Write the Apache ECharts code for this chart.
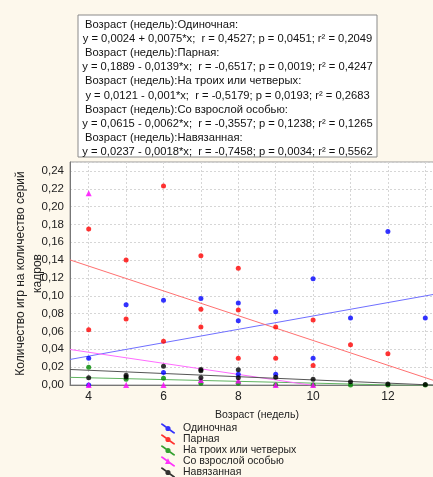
<!DOCTYPE html>
<html>
<head>
<meta charset="utf-8">
<script src="https://cdn.jsdelivr.net/npm/echarts@6/dist/echarts.min.js"></script>
<style>
  html, body { margin: 0; padding: 0; background: #fdf8ec; }
  #chart { width: 433px; height: 477px; }
</style>
</head>
<body>
<div id="chart"></div>
<script>
// Series names (legend order)
const seriesNames = ['Одиночная', 'Парная', 'На троих или четверых', 'Со взрослой особью', 'Навязанная'];

// Observations: [age in weeks, plays per frame series]
const singlePts = [
  [4, 0.030], [4, 0.000], [5, 0.090], [6, 0.095], [6, 0.014], [7, 0.097],
  [8, 0.092], [8, 0.072], [8, 0.012], [9, 0.082], [9, 0.012], [10, 0.119],
  [10, 0.030], [11, 0.075], [12, 0.172], [13, 0.075]
];
const pairPts = [
  [4, 0.175], [4, 0.062], [5, 0.140], [5, 0.074], [6, 0.223], [6, 0.049],
  [7, 0.145], [7, 0.085], [7, 0.065], [8, 0.131], [8, 0.084], [8, 0.030],
  [9, 0.065], [9, 0.030], [10, 0.073], [10, 0.022], [11, 0.045], [12, 0.035]
];
const groupPts = [
  [4, 0.020], [5, 0.0064], [6, 0.0075], [7, 0.002], [8, 0.002],
  [9, 0.000], [10, 0.000], [11, 0.000], [12, 0.000], [13, 0.000]
];
const adultPts = [
  [4, 0.215], [4, 0.000], [5, 0.000], [6, 0.000], [7, 0.0056], [8, 0.005],
  [9, 0.000], [10, 0.000]
];
const imposedPts = [
  [4, 0.008], [5, 0.011], [5, 0.009], [6, 0.021], [7, 0.0175], [7, 0.016],
  [7, 0.008], [8, 0.017], [8, 0.008], [9, 0.0086], [10, 0.0064], [11, 0.0037],
  [12, 0.001], [13, 0.0005]
];

// Linear fits y = a + b*x and their statistics
const intercepts = [0.0024, 0.1889, 0.0121, 0.0615, 0.0237];
const slopes     = [0.0075, -0.0139, -0.001, -0.0062, -0.0018];
const rValues    = ['0,4527', '-0,6517', '-0,5179', '-0,3557', '-0,7458'];
const pValues    = ['0,0451', '0,0019', '0,0193', '0,1238', '0,0034'];
const r2Values   = ['0,2049', '0,4247', '0,2683', '0,1265', '0,5562'];

// Axis ticks
const xRange = [3.5, 13.5];
const xGridTicks = [4, 5, 6, 7, 8, 9, 10, 11, 12, 13];
const xLabelTicks = [4, 6, 8, 10, 12];

const pointColors = ['#0000ff', '#ff0000', '#008a00', '#ff00ff', '#000000'];
const lineColors  = ['#6f6fff', '#ff7070', '#5fb35f', '#ff6bff', '#555555'];
const symbols     = ['circle', 'circle', 'circle', 'triangle', 'circle'];
const allPts = [singlePts, pairPts, groupPts, adultPts, imposedPts];

const FONT = '"Liberation Sans", Arial, sans-serif';
const comma = v => String(v).replace('.', ',');

// Equation text block
const textLines = [];
seriesNames.forEach((name, i) => {
  const b = slopes[i];
  const eq = 'y = ' + comma(intercepts[i]) + (b < 0 ? ' - ' : ' + ') + comma(Math.abs(b)) +
    '*x;  r = ' + rValues[i] + '; p = ' + pValues[i] + '; r² = ' + r2Values[i];
  textLines.push({ text: 'Возраст (недель):' + name + ':', header: true });
  textLines.push({ text: eq, header: false });
});

const box = { x: 78, y: 15, w: 299, h: 142 };
const graphicEls = [{
  type: 'rect',
  shape: { x: box.x, y: box.y, width: box.w, height: box.h },
  style: { fill: '#ffffff', stroke: '#8a8a8a', lineWidth: 1 },
  z: 10
}];
textLines.forEach((ln, k) => {
  graphicEls.push({
    type: 'text',
    x: ln.header ? box.x + 7 : box.x + box.w / 2,
    y: 25 + k * 14.1,
    style: {
      text: ln.text,
      font: '11.2px ' + FONT,
      fill: '#111',
      align: ln.header ? 'left' : 'center',
      verticalAlign: 'middle'
    },
    z: 11
  });
});

// Legend icons: a slanted line with the point marker on it
const iconLine = 'M0,0 L1.6,0 L14,8.9 L14,10 L12.4,10 L0,1.1 Z ';
const iconCircle = 'M9.6,5 A2.6,2.6 0 1 1 4.4,5 A2.6,2.6 0 1 1 9.6,5 Z';
const iconTri = 'M7,1.8 L10,7.6 L4,7.6 Z';

const series = [];
seriesNames.forEach((name, i) => {
  series.push({
    name: name,
    type: 'scatter',
    data: allPts[i],
    symbol: symbols[i],
    symbolSize: symbols[i] === 'triangle' ? 6 : 5,
    itemStyle: { color: pointColors[i] },
    z: 5
  });
});
seriesNames.forEach((name, i) => {
  series.push({
    name: name + ' fit',
    type: 'line',
    data: xRange.map(x => [x, intercepts[i] + slopes[i] * x]),
    symbol: 'none',
    lineStyle: { color: lineColors[i], width: 1 },
    clip: true,
    silent: true,
    z: 3
  });
});

const chart = echarts.init(document.getElementById('chart'), null, { renderer: 'canvas' });
chart.setOption({
  backgroundColor: '#fdf8ec',
  animation: false,
  textStyle: { fontFamily: FONT },
  grid: {
    left: 70, top: 162, right: -11, bottom: 92,
    outerBoundsMode: 'none',
    containLabel: false,
    show: true, backgroundColor: '#ffffff', borderColor: '#9a9a9a', borderWidth: 1
  },
  xAxis: {
    type: 'value',
    min: xRange[0], max: xRange[1],
    name: 'Возраст (недель)',
    nameLocation: 'middle',
    nameGap: 25,
    nameMoveOverlap: false,
    nameTextStyle: { fontSize: 10.5, color: '#222', fontFamily: FONT },
    axisLine: { show: true, lineStyle: { color: '#777' } },
    axisTick: { show: false, customValues: xGridTicks },
    axisLabel: { customValues: xLabelTicks, fontSize: 12, color: '#222', margin: 6, fontFamily: FONT },
    splitLine: { show: true, lineStyle: { color: '#d6d6d6', type: [2, 2] } }
  },
  yAxis: {
    type: 'value',
    min: 0, max: 0.25, interval: 0.02,
    name: 'Количество игр на количество серий\nкадров',
    nameLocation: 'middle',
    nameGap: 24,
    nameMoveOverlap: false,
    nameTextStyle: { fontSize: 12, color: '#222', lineHeight: 17, fontFamily: FONT },
    axisLine: { show: true, lineStyle: { color: '#777' } },
    axisTick: { show: false },
    axisLabel: {
      fontSize: 11.5, color: '#222', margin: 6, fontFamily: FONT,
      showMaxLabel: false,
      formatter: v => v.toFixed(2).replace('.', ',')
    },
    splitLine: { show: true, lineStyle: { color: '#d6d6d6', type: [2, 2] } }
  },
  legend: {
    orient: 'vertical',
    left: 161, top: 423,
    height: 80,
    padding: 0,
    itemWidth: 14, itemHeight: 10,
    itemGap: 0,
    textStyle: { fontSize: 10.5, color: '#222', fontFamily: FONT, padding: [0, 0, 0, 3] },
    data: seriesNames.map((n, i) => ({
      name: n,
      icon: 'path://' + iconLine + (symbols[i] === 'triangle' ? iconTri : iconCircle)
    }))
  },
  graphic: graphicEls,
  series: series
});
</script>
</body>
</html>
